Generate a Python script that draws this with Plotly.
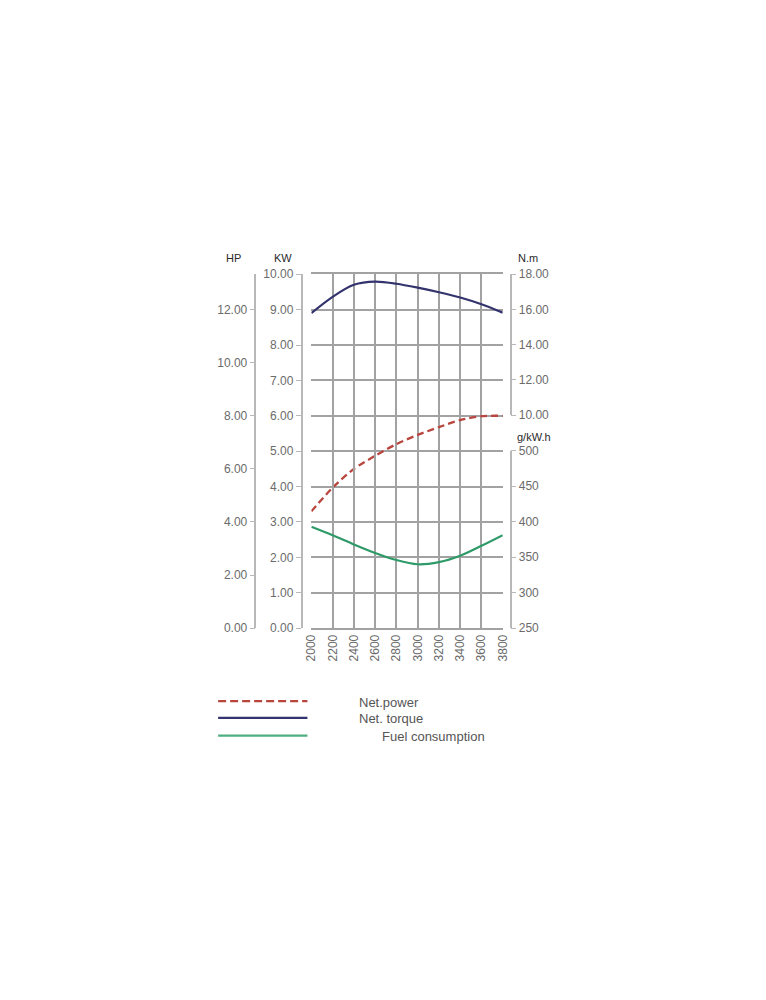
import plotly.graph_objects as go

# page body has an 8px margin; size figure so page fits the 766x1000 window
W, H = 750, 984
OFF = 8

rpm = [2000, 2200, 2400, 2600, 2800, 3000, 3200, 3400, 3600, 3800]
net_power_kw = [3.30, 3.97, 4.50, 4.87, 5.20, 5.46, 5.68, 5.88, 5.99, 6.00]
net_torque_nm = [15.80, 16.72, 17.40, 17.58, 17.46, 17.24, 16.98, 16.68, 16.30, 15.82]
fuel_gkwh = [393, 381, 368, 356, 346, 340, 343, 352, 366, 381]

kw_ticks = [0, 1, 2, 3, 4, 5, 6, 7, 8, 9, 10]
hp_ticks = [0, 2, 4, 6, 8, 10, 12]
nm_ticks = [10, 12, 14, 16, 18]
g_ticks = [250, 300, 350, 400, 450, 500]
rpm_ticks = rpm

c_power = "#b8463f"
c_torque = "#33336e"
c_fuel = "#2e9a68"
c_fuel_leg = "#4fae80"
grid_c = "#a2a2a2"
axis_c = "#b8b8b8"
FONT = "Liberation Sans, Arial, sans-serif"
tick_font = dict(family=FONT, size=12, color="#6b6b6b")
title_font = dict(family=FONT, size=11, color="#2a2a2a")


def px(v):
    return (v - OFF) / W


def py(v):
    return 1 - (v - OFF) / H


fig = go.Figure()
fig.add_trace(go.Scatter(x=rpm, y=net_power_kw, mode="lines", name="Net.power",
                         line=dict(color=c_power, width=2.3, dash="7px,4px", shape="spline",
                                   smoothing=0.8),
                         xaxis="x", yaxis="y", showlegend=False))
fig.add_trace(go.Scatter(x=rpm, y=net_torque_nm, mode="lines", name="Net. torque",
                         line=dict(color=c_torque, width=2.2, shape="spline", smoothing=0.8),
                         xaxis="x", yaxis="y3", showlegend=False))
fig.add_trace(go.Scatter(x=rpm, y=fuel_gkwh, mode="lines", name="Fuel consumption",
                         line=dict(color=c_fuel, width=2.2, shape="spline", smoothing=0.8),
                         xaxis="x", yaxis="y4", showlegend=False))
# invisible trace to keep HP axis alive
fig.add_trace(go.Scatter(x=[rpm[0]], y=[0], mode="markers", marker=dict(opacity=0),
                         xaxis="x", yaxis="y2", showlegend=False, hoverinfo="skip"))

fig.update_layout(
    width=W, height=H, autosize=False,
    margin=dict(l=0, r=0, t=0, b=0),
    paper_bgcolor="#ffffff", plot_bgcolor="rgba(0,0,0,0)",
    xaxis=dict(domain=[px(310), px(505)], range=[2000, 3800], tickvals=rpm_ticks,
               tickangle=-90, showgrid=True, gridcolor=grid_c, gridwidth=1.6,
               showline=True, mirror=True, linecolor=grid_c, linewidth=1.6,
               zeroline=False, ticks="", tickfont=tick_font, anchor="y"),
    yaxis=dict(domain=[py(630), py(271)], range=[0, 10], tickvals=kw_ticks, tickformat=".2f",
               anchor="free", position=px(300), showgrid=True, gridcolor=grid_c, gridwidth=1.6,
               showline=True, linecolor=axis_c, linewidth=1.5, ticks="outside", ticklen=5,
               tickcolor=axis_c, zeroline=False, tickfont=tick_font),
    yaxis2=dict(overlaying="y", range=[0, 40 / 3], tickvals=hp_ticks, tickformat=".2f",
                anchor="free", position=px(253), side="left", showgrid=False,
                showline=True, linecolor=axis_c, linewidth=1.5, ticks="outside", ticklen=5,
                tickcolor=axis_c, zeroline=False, tickfont=tick_font),
    yaxis3=dict(domain=[py(414), py(271)], range=[10, 18], tickvals=nm_ticks, tickformat=".2f",
                anchor="free", position=px(513), side="right", showgrid=False,
                showline=True, linecolor=axis_c, linewidth=1.5, ticks="outside", ticklen=5,
                tickcolor=axis_c, zeroline=False, tickfont=tick_font),
    yaxis4=dict(domain=[py(630), py(450)], range=[250, 500], tickvals=g_ticks,
                anchor="free", position=px(513), side="right", showgrid=False,
                showline=True, linecolor=axis_c, linewidth=1.5, ticks="outside", ticklen=5,
                tickcolor=axis_c, zeroline=False, tickfont=tick_font),
)

ann = [
    ("HP", 231, 255, "center"),
    ("KW", 281, 255, "center"),
    ("N.m", 531, 255, "center"),
    ("g/kW.h", 537, 436, "center"),
]
for t, x, y, a in ann:
    fig.add_annotation(text=t, x=px(x), y=py(y), xref="paper", yref="paper",
                       showarrow=False, xanchor=a, yanchor="middle", font=title_font)

legend_items = [
    ("Net.power", c_power, "8px,4px", 704, 357),
    ("Net. torque", c_torque, "solid", 721, 357),
    ("Fuel consumption", c_fuel_leg, "solid", 739, 380),
]
for name, col, dash, y, tx in legend_items:
    fig.add_shape(type="line", xref="paper", yref="paper", x0=px(215), x1=px(306),
                  y0=py(y), y1=py(y), line=dict(color=col, width=2.4, dash=dash))
    fig.add_annotation(text=name, x=px(tx), y=py(y + 1), xref="paper", yref="paper",
                       showarrow=False, xanchor="left", yanchor="middle",
                       font=dict(family=FONT, size=13, color="#555555"))

fig.write_html("out.html")
